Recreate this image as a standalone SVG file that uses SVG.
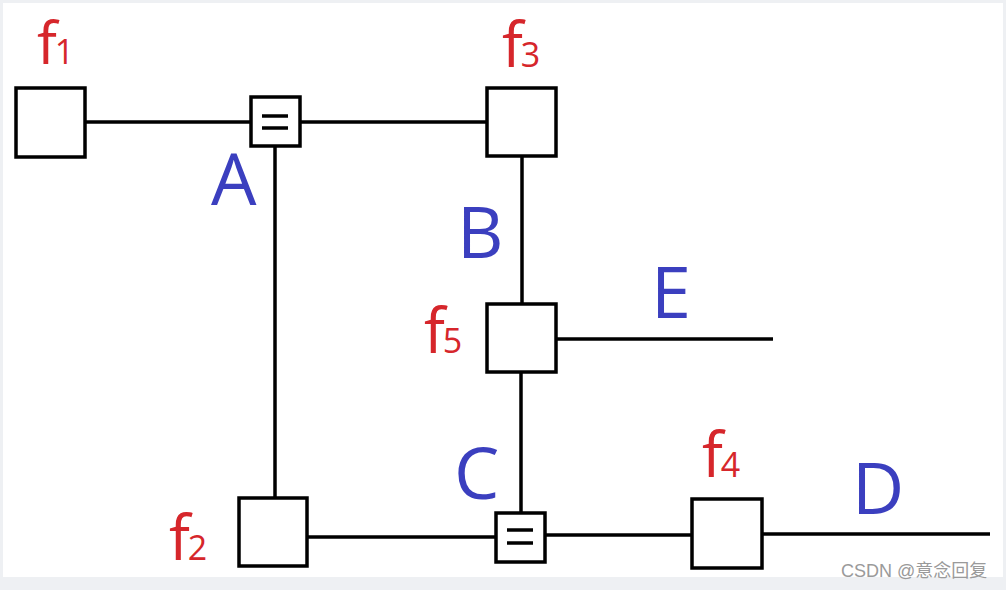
<svg xmlns="http://www.w3.org/2000/svg" width="1006" height="590" viewBox="0 0 1006 590">
<style>
.box{fill:#fff;stroke:#000;stroke-width:3.5}
.ln{stroke:#000;stroke-width:3.5;fill:none}
.eq{stroke:#000;stroke-width:3.5}
.f{font-family:"Open Sans","Liberation Sans",sans-serif;fill:#d6262b;font-size:62px}
.f tspan{font-size:34px}
.lb{font-family:"Open Sans","Liberation Sans",sans-serif;fill:#3b3fbf;font-size:72px}
.wm{font-family:"Liberation Sans","Noto Sans CJK SC",sans-serif;fill:#9a9a9a;font-size:18px}
</style>
<rect x="0" y="0" width="1006" height="590" fill="#eef0f3"/>
<rect x="3" y="3" width="1000" height="574" fill="#fff"/>
<g id="connectors">
<line class="ln" x1="85" y1="122" x2="251" y2="122"/>
<line class="ln" x1="300" y1="122" x2="487" y2="122"/>
<line class="ln" x1="275" y1="146" x2="275" y2="498"/>
<line class="ln" x1="522" y1="156" x2="522" y2="304"/>
<line class="ln" x1="556" y1="339" x2="773" y2="339"/>
<line class="ln" x1="521" y1="372" x2="521" y2="513"/>
<line class="ln" x1="307" y1="537" x2="496" y2="537"/>
<line class="ln" x1="545" y1="535" x2="692" y2="535"/>
<line class="ln" x1="762" y1="534" x2="990" y2="534"/>
</g>
<g id="f1"><rect class="box" x="16" y="88" width="69" height="69"/><text class="f" x="37" y="64" style="font-size:59px">f<tspan dx="-2">1</tspan></text></g>
<g id="A"><rect class="box" x="251" y="97" width="49" height="49"/><line class="eq" x1="262" y1="116" x2="288" y2="116"/><line class="eq" x1="262" y1="128" x2="288" y2="128"/><text class="lb" x="211" y="205">A</text></g>
<g id="f3"><rect class="box" x="487" y="88" width="69" height="68"/><text class="f" x="502" y="67">f<tspan dx="-2">3</tspan></text></g>
<g id="B"><text class="lb" x="457" y="258">B</text></g>
<g id="f5"><rect class="box" x="487" y="304" width="69" height="68"/><text class="f" x="424" y="353">f<tspan dx="-2">5</tspan></text></g>
<g id="E"><text class="lb" x="651" y="318">E</text></g>
<g id="f2"><rect class="box" x="239" y="498" width="68" height="68"/><text class="f" x="169" y="560">f<tspan dx="-2">2</tspan></text></g>
<g id="C"><rect class="box" x="496" y="513" width="49" height="49"/><line class="eq" x1="507" y1="530" x2="533" y2="530"/><line class="eq" x1="507" y1="543" x2="533" y2="543"/><text class="lb" x="454" y="499">C</text></g>
<g id="f4"><rect class="box" x="692" y="499" width="70" height="69"/><text class="f" x="702" y="477">f<tspan dx="-2">4</tspan></text></g>
<g id="D"><text class="lb" x="852" y="514">D</text></g>
<text class="wm" x="841" y="577">CSDN @意念回复</text>
</svg>
